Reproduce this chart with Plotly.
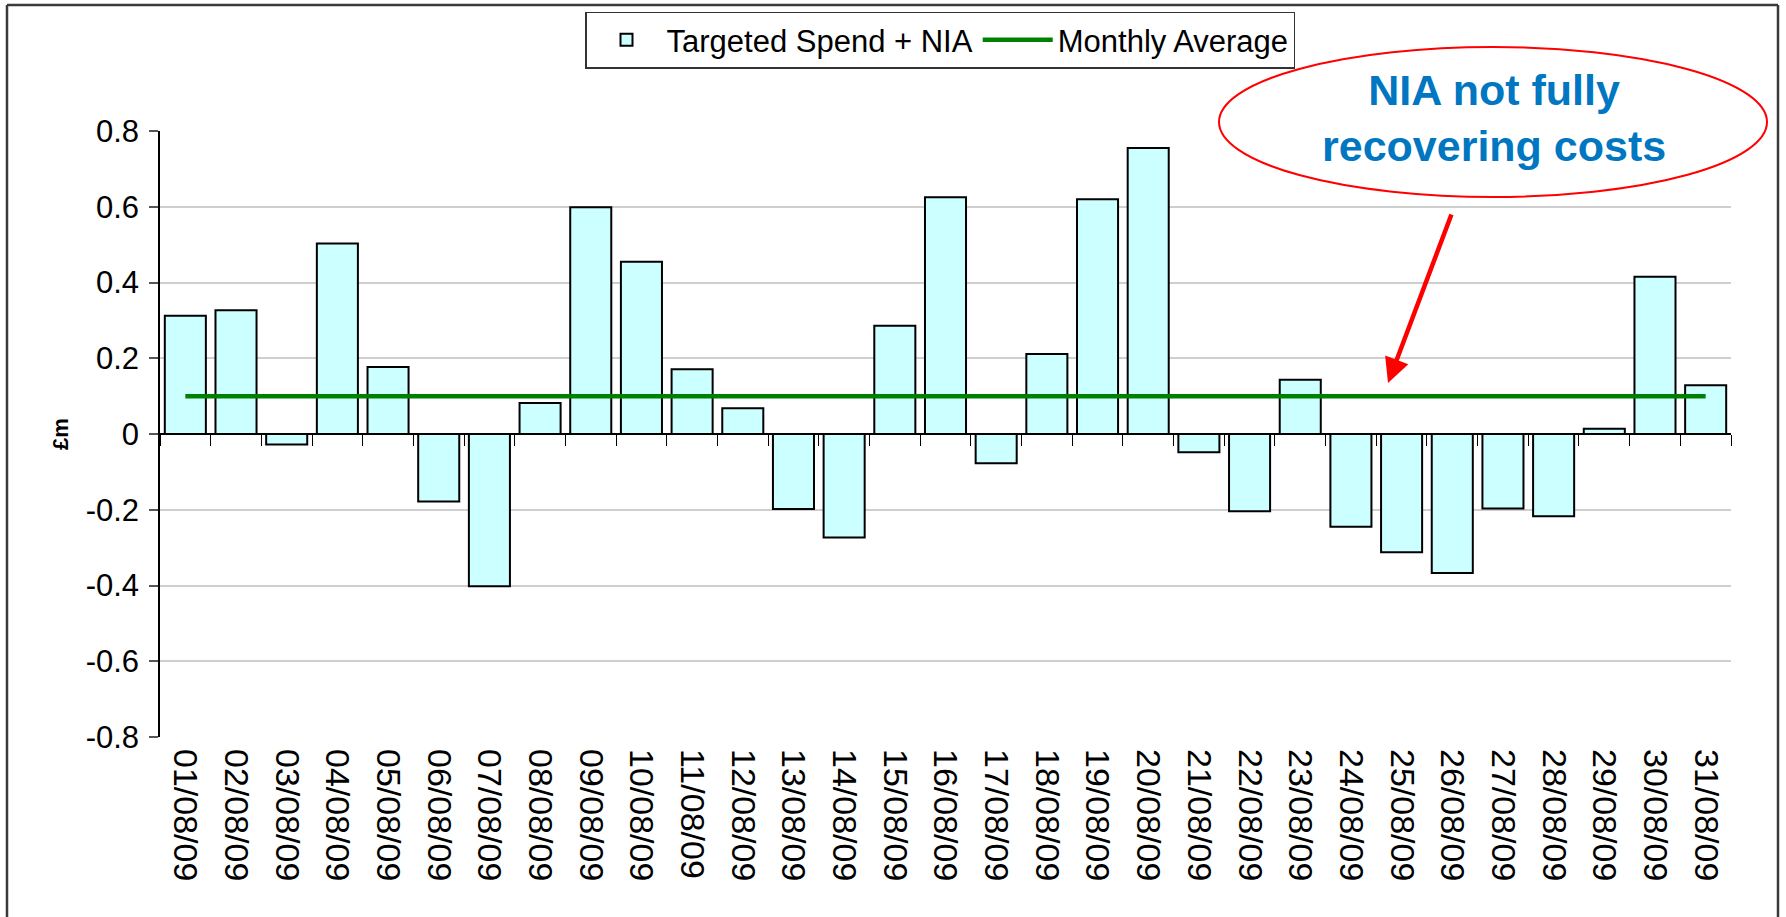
import plotly.graph_objects as go

# ---------------- data ----------------
dates = ["01/08/09", "02/08/09", "03/08/09", "04/08/09", "05/08/09", "06/08/09",
         "07/08/09", "08/08/09", "09/08/09", "10/08/09", "11/08/09", "12/08/09",
         "13/08/09", "14/08/09", "15/08/09", "16/08/09", "17/08/09", "18/08/09",
         "19/08/09", "20/08/09", "21/08/09", "22/08/09", "23/08/09", "24/08/09",
         "25/08/09", "26/08/09", "27/08/09", "28/08/09", "29/08/09", "30/08/09",
         "31/08/09"]

targeted_spend_nia = [0.312, 0.327, -0.028, 0.503, 0.177, -0.178, -0.402, 0.082,
                      0.599, 0.455, 0.171, 0.068, -0.198, -0.273, 0.286, 0.625,
                      -0.077, 0.211, 0.620, 0.755, -0.048, -0.204, 0.143, -0.245,
                      -0.312, -0.367, -0.197, -0.217, 0.014, 0.415, 0.129]

monthly_average = [0.10, 0.10, 0.10, 0.10, 0.10, 0.10, 0.10, 0.10, 0.10, 0.10,
                   0.10, 0.10, 0.10, 0.10, 0.10, 0.10, 0.10, 0.10, 0.10, 0.10,
                   0.10, 0.10, 0.10, 0.10, 0.10, 0.10, 0.10, 0.10, 0.10, 0.10,
                   0.10]

y_tick_values = [-0.8, -0.6, -0.4, -0.2, 0.0, 0.2, 0.4, 0.6, 0.8]
y_tick_labels = ["-0.8", "-0.6", "-0.4", "-0.2", "0", "0.2", "0.4", "0.6", "0.8"]

# ---------------- layout geometry ----------------
W, H = 1786, 917
ML, MR, MT, MB = 160, 55, 131, 180
PW = W - ML - MR
PH = H - MT - MB


def px(x):
    return (x - ML) / PW


def py(y):
    return (H - MB - y) / PH


FONT = "Liberation Sans, Arial, sans-serif"

fig = go.Figure()

fig.add_trace(go.Bar(
    x=dates, y=targeted_spend_nia, name="Targeted Spend + NIA",
    marker=dict(color="#CCFFFF", line=dict(color="black", width=2)),
    xaxis="x", yaxis="y",
))

fig.add_trace(go.Scatter(
    x=dates, y=monthly_average, name="Monthly Average", mode="lines",
    line=dict(color="#008000", width=4.5),
    xaxis="x2", yaxis="y",
))

fig.update_layout(
    width=W, height=H,
    margin=dict(l=ML, r=MR, t=MT, b=MB, pad=0),
    paper_bgcolor="white", plot_bgcolor="white",
    font=dict(family=FONT, color="black"),
    bargap=0.19,
    showlegend=True,
    legend=dict(
        orientation="h", x=px(940), xanchor="center", y=py(40), yanchor="middle",
        bgcolor="white", bordercolor="#333333", borderwidth=1.5,
        font=dict(family=FONT, size=31, color="black"),
        traceorder="normal", itemwidth=70,
    ),
    xaxis=dict(
        type="category", categoryorder="array", categoryarray=dates,
        range=[-0.5, 30.5], showgrid=False, showline=False, zeroline=False,
        ticks="", tickangle=90, ticklabelstandoff=11,
        tickfont=dict(family=FONT, size=34, color="black"),
    ),
    xaxis2=dict(
        type="category", categoryorder="array", categoryarray=dates,
        range=[-0.5, 30.5], overlaying="x", anchor="free", position=0.5,
        showticklabels=False, showgrid=False, zeroline=False,
        showline=True, linecolor="black", linewidth=2,
        ticks="outside", tickson="boundaries", ticklen=11, tickcolor="black", tickwidth=1,
    ),
    yaxis=dict(
        range=[-0.8, 0.8], tickmode="array", tickvals=y_tick_values, ticktext=y_tick_labels,
        showgrid=True, gridcolor="#CFCFCF", gridwidth=1.5, zeroline=False,
        showline=True, linecolor="black", linewidth=1.5,
        ticks="outside", ticklen=9, tickcolor="#555555", tickwidth=1.5,
        ticklabelstandoff=4,
        tickfont=dict(family=FONT, size=31, color="black"),
    ),
)

# axis title "£m"
fig.add_annotation(
    x=px(60), y=0.5, xref="paper", yref="paper", text="<b>£m</b>", showarrow=False,
    textangle=-90, font=dict(family=FONT, size=22, color="black"),
    xanchor="center", yanchor="middle",
)

# callout text
fig.add_annotation(
    x=px(1494), y=py(118), xref="paper", yref="paper",
    text="<b>NIA not fully<br>recovering costs</b>", showarrow=False,
    font=dict(family=FONT, size=43, color="#0077C0"),
    xanchor="center", yanchor="middle", align="center",
)

# callout arrow
fig.add_annotation(
    x=px(1388), y=py(383), xref="paper", yref="paper", text="",
    showarrow=True, ax=1452 - 1388, ay=213 - 383, axref="pixel", ayref="pixel",
    arrowcolor="#FF0000", arrowwidth=4.5, arrowhead=2, arrowsize=1.1, standoff=0,
)

# callout ellipse
fig.add_shape(
    type="circle", xref="paper", yref="paper",
    x0=px(1219), x1=px(1767), y0=py(197), y1=py(47),
    line=dict(color="#FF0000", width=2), fillcolor="rgba(0,0,0,0)", layer="above",
)

# outer chart border (left, top, right)
for (x0, y0, x1, y1) in [(7, 5, 7, 917), (7, 5, 1778, 5), (1778, 5, 1778, 917)]:
    fig.add_shape(
        type="line", xref="paper", yref="paper",
        x0=px(x0), y0=py(y0), x1=px(x1), y1=py(y1),
        line=dict(color="#3A3A3A", width=2.5), layer="above",
    )

fig.write_html(
    "out.html",
    config={"displayModeBar": False},
    post_script="document.body.style.margin='0';document.body.style.overflow='hidden';",
)
